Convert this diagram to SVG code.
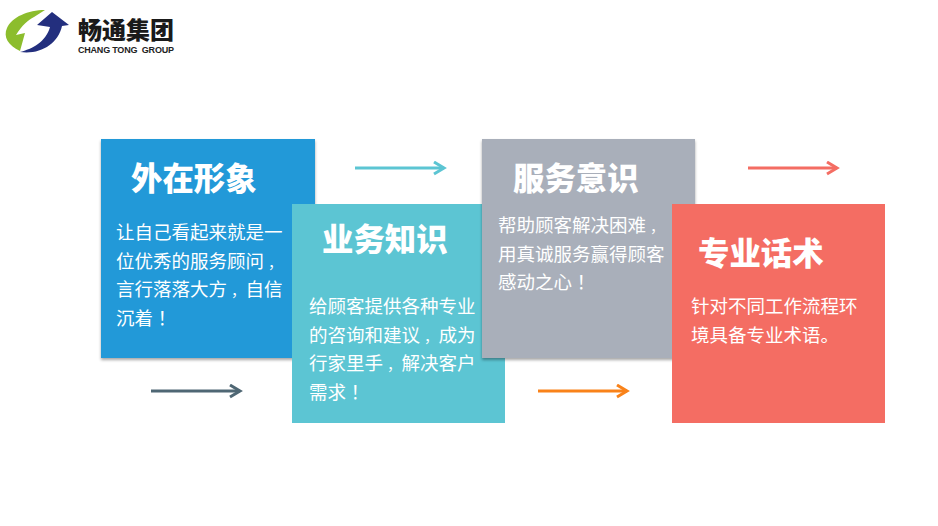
<svg xmlns="http://www.w3.org/2000/svg" width="938" height="526" viewBox="0 0 938 526">
<defs>
<filter id="sh" x="-5%" y="-5%" width="110%" height="110%"><feDropShadow dx="0" dy="2" stdDeviation="1.5" flood-color="#000" flood-opacity="0.35"/></filter>
<marker id="m1" markerUnits="userSpaceOnUse" markerWidth="14" markerHeight="16" refX="11" refY="7" orient="auto"><path d="M1 1L11 7L1 13" fill="none" stroke="#5cc5d3" stroke-width="3"/></marker>
<marker id="m2" markerUnits="userSpaceOnUse" markerWidth="14" markerHeight="16" refX="11" refY="7" orient="auto"><path d="M1 1L11 7L1 13" fill="none" stroke="#f46d63" stroke-width="3"/></marker>
<marker id="m3" markerUnits="userSpaceOnUse" markerWidth="14" markerHeight="16" refX="11" refY="7" orient="auto"><path d="M1 1L11 7L1 13" fill="none" stroke="#4f6774" stroke-width="3"/></marker>
<marker id="m4" markerUnits="userSpaceOnUse" markerWidth="14" markerHeight="16" refX="11" refY="7" orient="auto"><path d="M1 1L11 7L1 13" fill="none" stroke="#f98219" stroke-width="3"/></marker>
</defs>
<style>
text{font-family:"Noto Sans CJK SC","Liberation Sans",sans-serif;fill:#fff}
.h{font-size:31.400px;font-weight:900}
.b{font-size:18.500px}
.p{font-family:"Noto Sans CJK TC","Liberation Sans",sans-serif}
.k{font-size:14.500px}
.c{stroke-width:3;fill:none}
</style>
<rect width="938" height="526" fill="#fff"/>
<g id="logo">
<path d="M45 10L34 17C28 20 22 25 16 35L25 33L20 51C8 45 3 37 7 28C12 17 28 10 45 10Z" fill="#8cbd2d"/>
<path d="M20 52C32 49 46 42 50 27L37 25L52 12L69 25L62 26C58 44 40 55 20 52Z" fill="#232f7e"/>
<text x="78" y="39" style="font-size:24px;font-weight:900;fill:#1a1a1a">畅通集团</text>
<text x="78" y="52.500" textLength="96" style="font-family:'Liberation Sans',sans-serif;font-size:9px;font-weight:700;fill:#222" xml:space="preserve">CHANG TONG  GROUP</text>
</g>
<g id="connectors">
<path class="c" d="M355 168H444" stroke="#5cc5d3" marker-end="url(#m1)"/>
<path class="c" d="M748 168H837" stroke="#f46d63" marker-end="url(#m2)"/>
<path class="c" d="M151 391H240" stroke="#4f6774" marker-end="url(#m3)"/>
<path class="c" d="M538 391H627" stroke="#f98219" marker-end="url(#m4)"/>
</g>
<g id="node1">
<rect x="101" y="139" width="214" height="219" fill="#2099d8" filter="url(#sh)"/>
<text class="h" x="131" y="190">外在形象</text>
<text class="b" x="116" y="239">让自己看起来就是一</text>
<text class="b" x="116" y="268">位优秀的服务顾问<tspan class="k" dx="4">，</tspan></text>
<text class="b" x="116" y="296">言行落落大方<tspan class="k" dx="4">，</tspan>自信</text>
<text class="b" x="116" y="325">沉着<tspan class="p">！</tspan></text>
</g>
<g id="node2">
<rect x="292" y="204" width="213" height="219" fill="#5cc5d3"/>
<text class="h" x="322" y="251">业务知识</text>
<text class="b" x="309" y="313">给顾客提供各种专业</text>
<text class="b" x="309" y="342">的咨询和建议<tspan class="k" dx="4">，</tspan>成为</text>
<text class="b" x="309" y="370">行家里手<tspan class="k" dx="4">，</tspan>解决客户</text>
<text class="b" x="309" y="399">需求<tspan class="p">！</tspan></text>
</g>
<g id="node3">
<rect x="482" y="139" width="213" height="219" fill="#a9afba" filter="url(#sh)"/>
<text class="h" x="513" y="190">服务意识</text>
<text class="b" x="498" y="232">帮助顾客解决困难<tspan class="k" dx="4">，</tspan></text>
<text class="b" x="498" y="261">用真诚服务赢得顾客</text>
<text class="b" x="498" y="289">感动之心<tspan class="p">！</tspan></text>
</g>
<g id="node4">
<rect x="672" y="204" width="213" height="219" fill="#f46d63"/>
<text class="h" x="698" y="265">专业话术</text>
<text class="b" x="691" y="313">针对不同工作流程环</text>
<text class="b" x="691" y="342">境具备专业术语。</text>
</g>
</svg>
